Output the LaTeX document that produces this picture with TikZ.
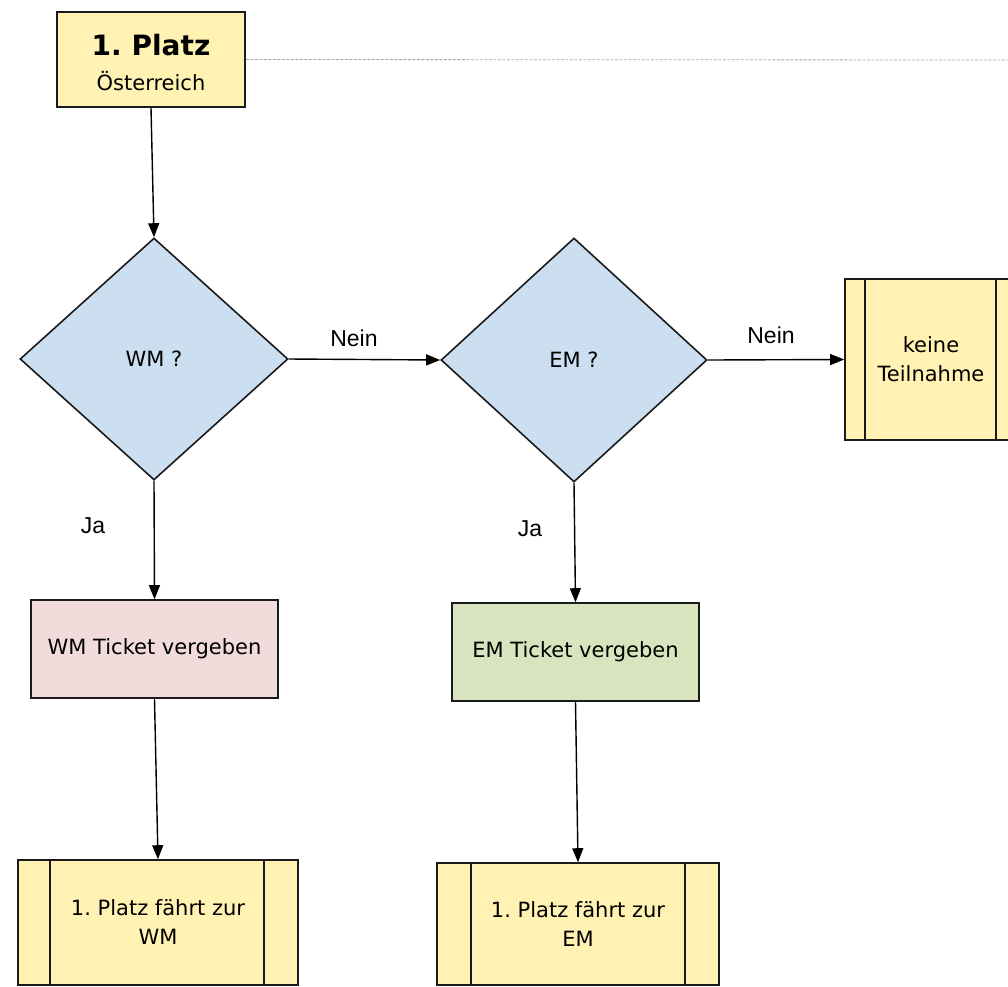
\documentclass[tikz,border=0pt]{standalone}
\usepackage{fontspec}
\setmainfont{DejaVu Sans}
\newfontfamily\arialf{Liberation Sans}
\usetikzlibrary{shapes.geometric,arrows.meta}
\frenchspacing
\definecolor{boxyellow}{HTML}{FFF2B3}
\definecolor{diablue}{HTML}{CCDFF1}
\definecolor{tickpink}{HTML}{F2DCDB}
\definecolor{tickgreen}{HTML}{D7E4BD}
\definecolor{edgegray}{HTML}{1A1A1A}
\tikzset{
  base/.style={draw=edgegray, line width=1.6pt, inner sep=0pt, align=center,
    font=\fontsize{21}{29}\selectfont, text=black},
  yelbox/.style={base, rectangle, fill=boxyellow},
  decision/.style={base, diamond, fill=diablue},
  ticket/.style={base, rectangle},
  arr/.style={draw=black, line width=1.4pt, -{Triangle[length=14pt,width=11pt]}},
  lbl/.style={font=\arialf\fontsize{23}{26}\selectfont, inner sep=0pt},
  bar/.style={draw=edgegray, line width=1.6pt},
  guide/.style={draw=gray!70, line width=0.8pt, dashed, dash pattern=on 3pt off 1.5pt}
}
\begin{document}
\begin{tikzpicture}[x=1pt,y=-1pt]
\useasboundingbox (0,0) rectangle (1008,986);
\clip (0,0) rectangle (1008,986);

% top box
\node[yelbox, minimum width=188pt, minimum height=95pt] (p1) at (151,59.5) {};
\node[anchor=base, inner sep=0pt, font=\bfseries\fontsize{28}{30}\selectfont] (p1t) at (151,55) {1. Platz};
\node[anchor=base, inner sep=0pt, font=\fontsize{21}{24}\selectfont] (p1s) at (151,90) {Österreich};
\coordinate (dashend) at (1010,60);
\draw[guide] (p1.east) -- (dashend);

% decisions
\node[decision, minimum width=268pt, minimum height=242pt] (wm) at (154,359) {WM ?};
\node[decision, minimum width=266pt, minimum height=244pt] (em) at (574,360) {EM ?};

% keine Teilnahme
\node[yelbox, minimum width=172pt, minimum height=161pt] (kt) at (931,359.5) {keine\\Teilnahme};
\draw[bar] ([xshift=21pt]kt.north west) -- ([xshift=21pt]kt.south west);
\draw[bar] ([xshift=-22pt]kt.north east) -- ([xshift=-22pt]kt.south east);

% tickets
\node[ticket, fill=tickpink, minimum width=247pt, minimum height=98pt] (wmt) at (154.5,649) {WM Ticket vergeben};
\node[ticket, fill=tickgreen, minimum width=247pt, minimum height=98pt] (emt) at (575.5,652) {EM Ticket vergeben};

% final boxes
\node[yelbox, minimum width=280pt, minimum height=125pt] (wmf) at (158,922.5) {1. Platz fährt zur\\WM};
\draw[bar] ([xshift=33pt]wmf.north west) -- ([xshift=33pt]wmf.south west);
\draw[bar] ([xshift=-35pt]wmf.north east) -- ([xshift=-35pt]wmf.south east);
\node[yelbox, minimum width=282pt, minimum height=122pt] (emf) at (578,924) {1. Platz fährt zur\\EM};
\draw[bar] ([xshift=35pt]emf.north west) -- ([xshift=35pt]emf.south west);
\draw[bar] ([xshift=-35pt]emf.north east) -- ([xshift=-35pt]emf.south east);

% connectors
\draw[arr] (p1.south) -- (wm.north);
\draw[arr] (wm.east) -- (em.west);
\draw[arr] (em.east) -- (kt.west);
\draw[arr] (wm.south) -- (wmt.north);
\draw[arr] (em.south) -- (emt.north);
\draw[arr] (wmt.south) -- (wmf.north);
\draw[arr] (emt.south) -- (emf.north);

% labels
\node[lbl] (n1) at (354,338) {Nein};
\node[lbl] (n2) at (771,335) {Nein};
\node[lbl] (j1) at (93,526) {Ja};
\node[lbl] (j2) at (530,529) {Ja};
\end{tikzpicture}
\end{document}
